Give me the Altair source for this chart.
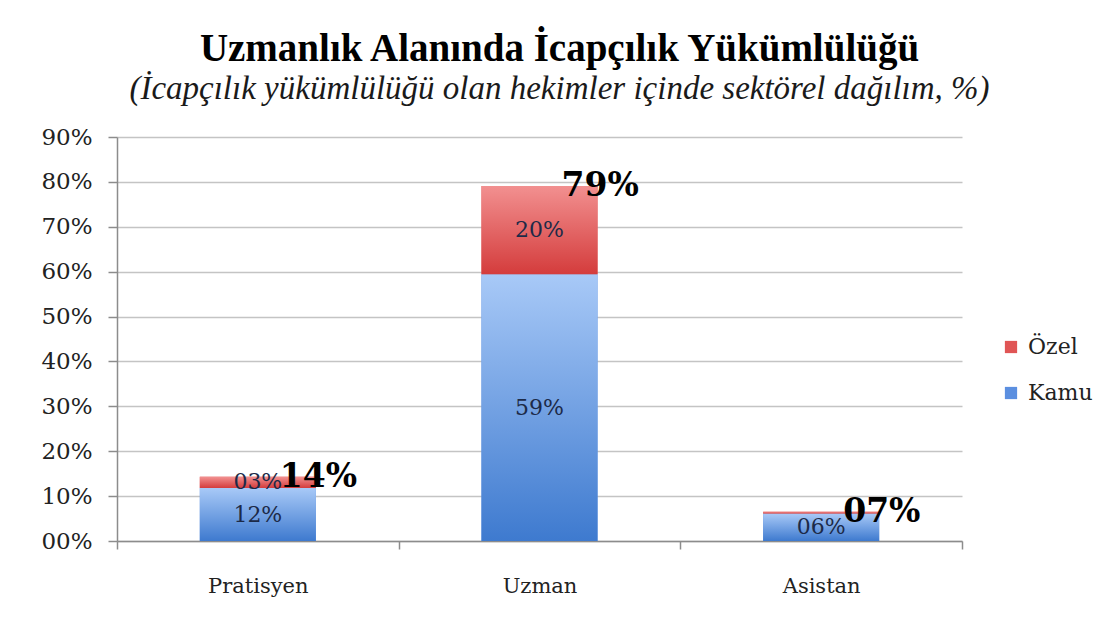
import altair as alt
import pandas as pd

categories = ["Pratisyen", "Uzman", "Asistan"]
kamu = [11.8, 59.4, 6.1]
ozel = [2.5, 19.7, 0.4]
kamu_labels = ["12%", "59%", "06%"]
ozel_labels = ["03%", "20%", ""]
total_labels = ["14%", "79%", "07%"]
series = ["Özel", "Kamu"]

rows = []
for c, k, o, kl, ol in zip(categories, kamu, ozel, kamu_labels, ozel_labels):
    rows.append({"cat": c, "seri": "Kamu", "y0": 0, "y1": k, "mid": k / 2, "lab": kl})
    rows.append({"cat": c, "seri": "Özel", "y0": k, "y1": k + o, "mid": k + o / 2, "lab": ol})
df = pd.DataFrame(rows)
tot = pd.DataFrame({"cat": categories, "t": [k + o for k, o in zip(kamu, ozel)], "lab": total_labels})

FONT = "DejaVu Serif"
BAND = alt.RelativeBandSize(0.412)
xenc = alt.X("cat:N", sort=categories, title=None,
             scale=alt.Scale(paddingInner=0, paddingOuter=0),
             axis=alt.Axis(labelAngle=0, labelFont=FONT, labelFontSize=21, labelColor="#222222",
                           labelPadding=26, tickSize=8, tickColor="#8c8c8c", domainColor="#8c8c8c",
                           tickBand="extent", grid=False, domainWidth=1.5, tickWidth=1.5))
yscale = alt.Scale(domain=[0, 90])

base = alt.Chart(df).mark_bar(width=BAND).encode(
    x=xenc,
    y=alt.Y("y0:Q", scale=yscale, title=None,
            axis=alt.Axis(values=list(range(0, 100, 10)),
                          labelExpr="(datum.value < 10 ? '0' : '') + datum.value + '%'",
                          labelFont=FONT, labelFontSize=23, labelColor="#222222",
                          labelPadding=16, tickSize=9, tickColor="#8c8c8c", domainColor="#8c8c8c",
                          gridColor="#c4c4c4", gridWidth=1.5, domainWidth=1.5, tickWidth=1.5,
                          minExtent=60, maxExtent=60)),
    y2="y1:Q",
    color=alt.Color("seri:N", scale=alt.Scale(domain=series, range=["#e05555", "#5b8fe0"]),
                    legend=alt.Legend(title=None, orient="none", legendX=883, legendY=199,
                                      symbolType="square", symbolSize=150, symbolStrokeWidth=0,
                                      labelFont=FONT, labelFontSize=22, labelColor="#222222",
                                      rowPadding=24, labelOffset=6)),
)

blue_grad = alt.Gradient(gradient="linear", x1=0, x2=0, y1=0, y2=1,
                         stops=[alt.GradientStop(color="#a8c9f7", offset=0),
                                alt.GradientStop(color="#3e7acf", offset=1)])
red_grad = alt.Gradient(gradient="linear", x1=0, x2=0, y1=0, y2=1,
                        stops=[alt.GradientStop(color="#f29090", offset=0),
                               alt.GradientStop(color="#d43c3c", offset=1)])

kamu_bar = alt.Chart(df).transform_filter(alt.datum.seri == "Kamu").mark_bar(fill=blue_grad, width=BAND).encode(
    x=alt.X("cat:N", sort=categories), y="y0:Q", y2="y1:Q")
ozel_bar = alt.Chart(df).transform_filter(alt.datum.seri == "Özel").mark_bar(fill=red_grad, width=BAND).encode(
    x=alt.X("cat:N", sort=categories), y="y0:Q", y2="y1:Q")

inner = alt.Chart(df).mark_text(font=FONT, fontSize=22, color="#1c2a48", baseline="middle", align="center").encode(
    x=alt.X("cat:N", sort=categories), y="mid:Q", text="lab:N")

total = alt.Chart(tot).mark_text(font=FONT, fontSize=33, fontWeight="bold", color="#000000",
                                 baseline="middle", align="left", dx=22).encode(
    x=alt.X("cat:N", sort=categories), y="t:Q", text="lab:N")

chart = alt.layer(base, kamu_bar, ozel_bar, inner, total).properties(
    width=845, height=404,
    padding={"left": 32, "top": 22, "right": 10, "bottom": 10},
    title=alt.TitleParams(
        text="Uzmanlık Alanında İcapçılık Yükümlülüğü",
        subtitle="(İcapçılık yükümlülüğü olan hekimler içinde sektörel dağılım, %)",
        font="Liberation Serif", fontSize=39, fontWeight="bold", color="#000000",
        subtitleFont="Liberation Serif", subtitleFontSize=33, subtitleFontStyle="italic",
        subtitleColor="#1a1a1a", subtitlePadding=4, anchor="middle", frame="group", dx=20, offset=20),
).configure_view(stroke=None)

chart.save("out.html", embed_options={"renderer": "svg", "actions": False})
